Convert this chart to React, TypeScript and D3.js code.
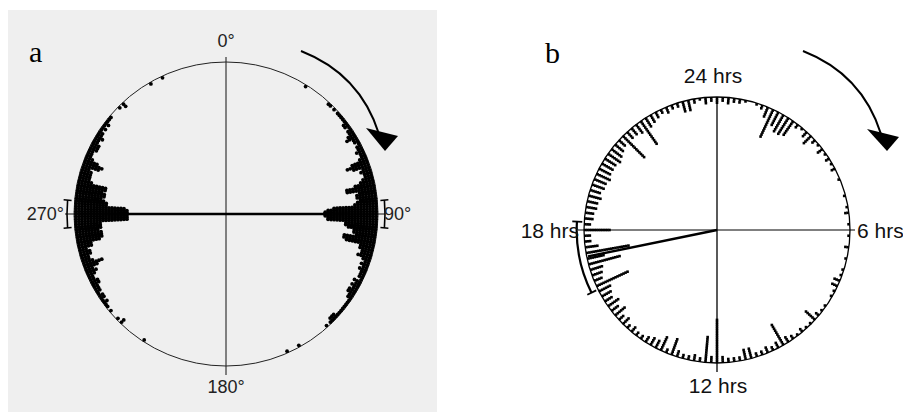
import React from "react";
import * as d3 from "d3";

// panel a: counts of dots per 1 degree bin (axial data, 270 / 90 clusters)
const aRightStart = 40;
const aRightCounts = [
  0, 0, 0, 1, 1, 0, 1, 0, 1, 1,
  1, 1, 1, 2, 2, 1, 2, 2, 3, 4,
  2, 2, 1, 2, 2, 3, 2, 2, 3, 6,
  8, 6, 3, 4, 3, 3, 4, 5, 7, 10,
  10, 6, 7, 7, 6, 7, 8, 15, 17, 18,
  18, 18, 17, 17, 11, 11, 10, 8, 8, 7,
  11, 11, 10, 5, 5, 4, 4, 5, 3, 2,
  3, 2, 3, 2, 2, 2, 1, 3, 2, 3,
  2, 3, 3, 2, 2, 1, 1, 1, 1, 1,
  1, 1, 1, 2, 2, 2, 1, 0, 1, 0, 0,
];
const aLeftStart = 230;
const aLeftCounts = [
  1, 0, 1, 1, 2, 1, 2, 2, 1, 2,
  2, 2, 3, 3, 2, 2, 3, 4, 3, 5,
  7, 4, 3, 3, 4, 4, 3, 5, 5, 8,
  9, 9, 9, 8, 9, 9, 9, 18, 18, 18,
  18, 18, 18, 17, 11, 11, 10, 9, 10, 10,
  9, 10, 10, 5, 4, 4, 4, 4, 3, 6,
  7, 5, 3, 2, 2, 2, 3, 3, 3, 2,
  2, 3, 2, 2, 1, 2, 1, 2, 1, 1, 1,
];
const aExtraAngles = [32, 151, 156, 213, 224, 226, 315, 317, 330, 335];
const aExtraCounts = [1, 1, 1, 1, 2, 1, 1, 2, 1, 1];
const aMeanAngle = 90;
const aMeanLength = 0.65;
const aCI = 5;
const aLabels = ["0°", "90°", "180°", "270°"];

// panel b: counts per 10 minute bin, starting at 0 hrs
const bBinMinutes = 10;
const bCounts = [
  3, 2, 3, 2, 2, 1, 0, 1, 2, 5, 14, 7, 9, 9, 8, 2, 1, 3, 5, 2, 1, 3, 1, 2,
  1, 2, 0, 1, 0, 0, 1, 0, 1, 2, 0, 1, 0, 1, 0, 2, 0, 1, 0, 1, 1, 3, 3, 1,
  1, 0, 1, 1, 2, 6, 1, 1, 2, 1, 2, 3, 11, 3, 2, 3, 2, 2, 5, 5, 2, 2, 2, 3,
  20, 3, 12, 2, 3, 2, 2, 3, 8, 2, 7, 4, 4, 3, 2, 2, 3, 2, 4, 3, 6, 4, 6, 4,
  5, 6, 16, 4, 5, 6, 15, 8, 20, 6, 3, 3, 12, 3, 4, 4, 5, 5, 6, 5, 6, 6, 7, 6,
  6, 6, 7, 6, 5, 4, 14, 4, 4, 5, 13, 5, 4, 3, 2, 3, 2, 2, 5, 5, 2, 1, 3, 2,
];
const bMeanHours = 17.23;
const bMeanLength = 0.99;
const bCIHours = 1;
const bLabels = ["24 hrs", "6 hrs", "12 hrs", "18 hrs"];

const toRad = d3.scaleLinear().domain([0, 360]).range([0, 2 * Math.PI]);
const hoursToDeg = d3.scaleLinear().domain([0, 24]).range([0, 360]);

function pt(cx: number, cy: number, deg: number, rad: number) {
  const a = toRad(deg);
  return [cx + rad * Math.sin(a), cy - rad * Math.cos(a)];
}

const sans = "'Liberation Sans', Arial, sans-serif";
const serif = "'Liberation Serif', 'Times New Roman', serif";

function PanelA() {
  const cx = 226, cy = 214, R = 152;
  const stack = d3.scaleLinear().domain([0, 1]).range([R - 1.8, R - 4.8]);
  const bins: { deg: number; n: number }[] = [];
  aRightCounts.forEach((n, i) => bins.push({ deg: aRightStart + i, n }));
  aLeftCounts.forEach((n, i) => bins.push({ deg: aLeftStart + i, n }));
  aExtraAngles.forEach((d, i) => bins.push({ deg: d, n: aExtraCounts[i] }));
  const dots: number[][] = [];
  bins.forEach((b) => {
    for (let k = 0; k < b.n; k++) dots.push(pt(cx, cy, b.deg, stack(k)));
  });
  const L = R * aMeanLength;
  const m1 = pt(cx, cy, aMeanAngle, L);
  const m2 = pt(cx, cy, aMeanAngle + 180, L);
  const ciArc = d3.arc<any>().innerRadius(158.2).outerRadius(159.8);
  const caps = [aMeanAngle - aCI, aMeanAngle + aCI, aMeanAngle + 180 - aCI, aMeanAngle + 180 + aCI];
  return (
    <g>
      <rect x={8} y={10} width={429} height={402} fill="#efefef" />
      <line x1={cx} y1={cy - R - 5} x2={cx} y2={cy + R + 9} stroke="#111" strokeWidth={1} />
      <line x1={cx - R - 9} y1={cy} x2={cx + R + 7} y2={cy} stroke="#111" strokeWidth={1} />
      <circle cx={cx} cy={cy} r={R} fill="none" stroke="#222" strokeWidth={1} />
      {dots.map((d, i) => (
        <circle key={i} cx={d[0]} cy={d[1]} r={1.9} fill="#000" />
      ))}
      <line x1={m1[0]} y1={m1[1]} x2={m2[0]} y2={m2[1]} stroke="#000" strokeWidth={2.5} />
      {[aMeanAngle, aMeanAngle + 180].map((m) => (
        <path
          key={m}
          transform={`translate(${cx},${cy})`}
          d={ciArc({ startAngle: toRad(m - aCI), endAngle: toRad(m + aCI) }) || ""}
          fill="#000"
        />
      ))}
      {caps.map((c) => {
        const p1 = pt(cx, cy, c, 155);
        const p2 = pt(cx, cy, c, 163);
        return <line key={c} x1={p1[0]} y1={p1[1]} x2={p2[0]} y2={p2[1]} stroke="#000" strokeWidth={1.6} />;
      })}
      <g fontFamily={sans} fontSize={18} fill="#222">
        <text x={cx} y={47} textAnchor="middle">{aLabels[0]}</text>
        <text x={384} y={220}>{aLabels[1]}</text>
        <text x={cx} y={393} textAnchor="middle">{aLabels[2]}</text>
        <text x={64} y={220} textAnchor="end">{aLabels[3]}</text>
      </g>
      <text x={29} y={62} fontFamily={serif} fontSize={30}>a</text>
      <path d="M301,51 Q360,74 379,134" fill="none" stroke="#000" strokeWidth={2} />
      <polygon points="366,128 398,136 385,151" fill="#000" />
    </g>
  );
}

function PanelB() {
  const cx = 717, cy = 230, R = 133;
  const stack = d3.scaleLinear().domain([0, 1]).range([R - 1.3, R - 3.5]);
  const dots: number[][] = [];
  bCounts.forEach((n, i) => {
    const deg = hoursToDeg((i * bBinMinutes) / 60);
    for (let k = 0; k < n; k++) dots.push(pt(cx, cy, deg, stack(k)));
  });
  const meanDeg = hoursToDeg(bMeanHours);
  const m = pt(cx, cy, meanDeg, R * bMeanLength);
  const lo = hoursToDeg(bMeanHours - bCIHours);
  const hi = hoursToDeg(bMeanHours + bCIHours);
  const ciArc = d3.arc<any>().innerRadius(139.2).outerRadius(141.4);
  return (
    <g>
      <line x1={cx} y1={cy - R} x2={cx} y2={cy + R + 9} stroke="#000" strokeWidth={1.3} />
      <line x1={cx - R - 6} y1={cy} x2={cx + R + 5} y2={cy} stroke="#000" strokeWidth={1} />
      <circle cx={cx} cy={cy} r={R} fill="none" stroke="#000" strokeWidth={1.3} />
      {dots.map((d, i) => (
        <rect key={i} x={d[0] - 1.3} y={d[1] - 1.3} width={2.6} height={2.6} fill="#000" />
      ))}
      <line x1={cx} y1={cy} x2={m[0]} y2={m[1]} stroke="#000" strokeWidth={2.5} />
      <path
        transform={`translate(${cx},${cy})`}
        d={ciArc({ startAngle: toRad(lo), endAngle: toRad(hi) }) || ""}
        fill="#000"
      />
      {[lo, hi].map((c) => {
        const p1 = pt(cx, cy, c, 135);
        const p2 = pt(cx, cy, c, 145);
        return <line key={c} x1={p1[0]} y1={p1[1]} x2={p2[0]} y2={p2[1]} stroke="#000" strokeWidth={1.8} />;
      })}
      <g fontFamily={sans} fontSize={21} fill="#111">
        <text x={713} y={83} textAnchor="middle">{bLabels[0]}</text>
        <text x={857} y={238}>{bLabels[1]}</text>
        <text x={718} y={393} textAnchor="middle">{bLabels[2]}</text>
        <text x={579} y={238} textAnchor="end">{bLabels[3]}</text>
      </g>
      <text x={545} y={63} fontFamily={serif} fontSize={30}>b</text>
      <path d="M803,51 Q862,74 881,134" fill="none" stroke="#000" strokeWidth={2} />
      <polygon points="867,129 899,137 887,151" fill="#000" />
    </g>
  );
}

export default function App() {
  return (
    <svg
      width={903}
      height={412}
      style={{ position: "absolute", left: 0, top: 0, background: "#fff" }}
    >
      <PanelA />
      <PanelB />
    </svg>
  );
}
